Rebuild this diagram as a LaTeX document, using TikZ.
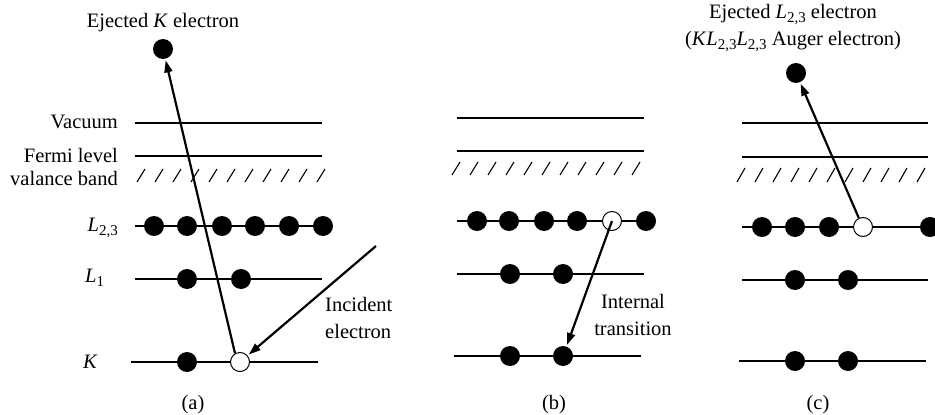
\documentclass[tikz,border=0pt]{standalone}
\usepackage{fontspec}
\setmainfont{Liberation Serif}
\usetikzlibrary{arrows.meta}
\newcommand\lowidx[1]{\raisebox{-0.45ex}{\fontsize{15}{15}\selectfont #1}}
\newcommand\Ltt{\textit{L}\lowidx{2,3}}
\begin{document}
\begin{tikzpicture}[x=1pt,y=-1pt,
  every node/.style={font=\fontsize{20.5}{27}\selectfont, inner sep=0pt},
  elec/.style={circle, fill=black, minimum size=20pt},
  hole/.style={circle, draw=black, line width=1pt, fill=white, minimum size=19pt},
  vac/.style={line width=1.8pt},
  fermi/.style={line width=1.1pt},
  lvlthick/.style={line width=1.8pt},
  lvlthin/.style={line width=1.1pt},
  lvlk/.style={line width=1.5pt},
  hatchmark/.style={line width=1.1pt},
  arr/.style={line width=2.2pt, -{Triangle[length=12pt,width=8pt]}, shorten >=1.5pt}]
\useasboundingbox (0,0) rectangle (935,415);

% ---------------- (a) ----------------
\node at (163,23) {Ejected \textit{K} electron};
\node[anchor=east] at (118,122) {Vacuum};
\node[anchor=east] at (118,155) {Fermi level};
\node[anchor=east] at (118,178) {valance band};
\node[anchor=east] at (118,228) {\Ltt};
\node[anchor=west] at (85,278) {\textit{L}\lowidx{1}};
\node[anchor=west] at (83,362) {\textit{K}};

\draw[vac] (135,123) -- (322,123);
\draw[fermi] (135,156) -- (322,156);
\foreach \i in {0,...,10}
  \draw[hatchmark] ({137+18*\i},182) -- ({145+18*\i},169);
\draw[lvlthick] (135,226) -- (330,226);
\draw[lvlthin] (135,279) -- (322,279);
\draw[lvlk] (131,362) -- (318,362);

\node[elec] (eA) at (163,49) {};
\foreach \x [count=\n] in {154,187,222,255,289,323}
  \node[elec] (lA\n) at (\x,226) {};
\node[elec] (mA1) at (187,279) {};
\node[elec] (mA2) at (241,279) {};
\node[elec] (kA1) at (187,362) {};
\node[hole] (hA) at (240,362) {};

\coordinate (inA) at (376,246);
\draw[arr] (hA.120) -- (eA);
\draw[arr] (inA) -- (hA);
\node[anchor=west, align=left] at (325,318) {Incident\\electron};
\node at (193,405) {(a)};

% ---------------- (b) ----------------
\draw[vac] (457,118) -- (644,118);
\draw[fermi] (457,151) -- (644,151);
\foreach \i in {0,...,10}
  \draw[hatchmark] ({452+18*\i},175) -- ({460+18*\i},162);
\draw[lvlthick] (457,221) -- (655,221);
\draw[lvlthin] (457,274) -- (644,274);
\draw[lvlk] (454,356) -- (641,356);

\foreach \x [count=\n] in {477,509,544,577}
  \node[elec] (lB\n) at (\x,221) {};
\node[hole] (hB) at (612,221) {};
\node[elec] (lB6) at (646,221) {};
\node[elec] (mB1) at (510,274) {};
\node[elec] (mB2) at (563,274) {};
\node[elec] (kB1) at (510,356) {};
\node[elec] (kB2) at (563,356) {};

\draw[arr] (hB.center) -- (kB2);
\node[align=center] at (633,315) {Internal\\transition};
\node at (554,405) {(b)};

% ---------------- (c) ----------------
\node[align=center] at (793,28) {Ejected \Ltt{} electron\\(\textit{K}\Ltt\Ltt{} Auger electron)};
\draw[vac] (742,123) -- (928,123);
\draw[fermi] (742,157) -- (928,157);
\foreach \i in {0,...,10}
  \draw[hatchmark] ({737+18*\i},182) -- ({745+18*\i},168);
\draw[lvlthick] (742,227) -- (935,227);
\draw[lvlthin] (742,280) -- (928,280);
\draw[lvlk] (739,361) -- (926,361);

\node[elec] (eC) at (796,73) {};
\foreach \x [count=\n] in {762,795,829}
  \node[elec] (lC\n) at (\x,227) {};
\node[hole] (hC) at (863,227) {};
\node[elec] (lC6) at (930,227) {};
\node[elec] (mC1) at (795,280) {};
\node[elec] (mC2) at (848,280) {};
\node[elec] (kC1) at (795,361) {};
\node[elec] (kC2) at (848,361) {};

\draw[arr] (hC.115) -- (eC);
\node at (818,405) {(c)};
\end{tikzpicture}
\end{document}
